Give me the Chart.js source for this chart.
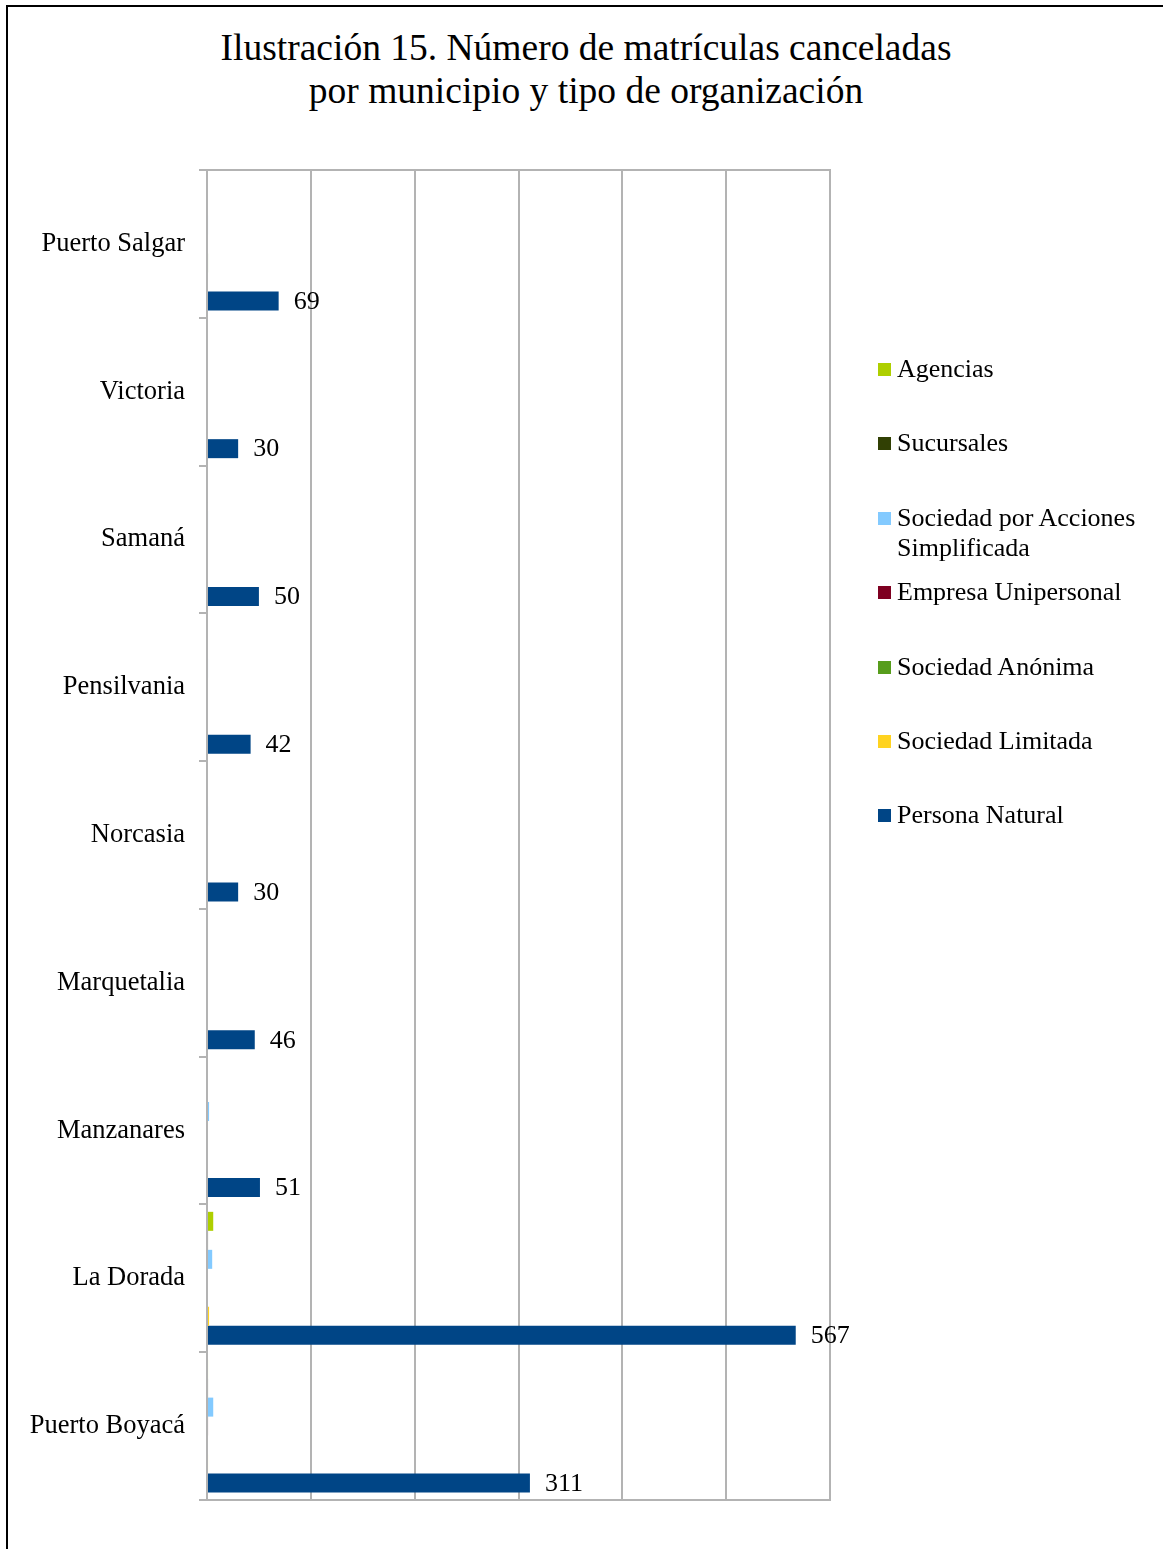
<!DOCTYPE html>
<html lang="es">
<head>
<meta charset="utf-8">
<title>Ilustración 15</title>
<script src="https://cdn.jsdelivr.net/npm/chart.js@4/dist/chart.umd.min.js"></script>
<style>
    html, body { margin: 0; padding: 0; background: #fff; overflow: hidden; }
    body { width: 1163px; height: 1549px; position: relative; font-family: "Liberation Serif", "Times New Roman", serif; }
    #marco { position: absolute; left: 6px; top: 5px; width: 1200px; height: 1600px; border-left: 2px solid #000; border-top: 2px solid #000; }
    #titulo { position: absolute; left: 0; width: 1172px; top: 26px; text-align: center; font-size: 37.5px; line-height: 43px; color: #000; }
    #grafico { position: absolute; left: 0; top: 0; }
    #leyenda { position: absolute; left: 878px; top: 0; width: 285px; height: 900px; }
    .item { position: absolute; left: 0; width: 285px; display: flex; align-items: flex-start; font-size: 26px; line-height: 30px; }
    .item .cuadro { width: 13px; height: 13px; margin-top: 9px; margin-right: 6px; flex: none; }
    .item .texto { width: 262px; }
</style>
</head>
<body>
<div id="marco"></div>
<div id="titulo">Ilustración 15. Número de matrículas canceladas<br>por municipio y tipo de organización</div>
<canvas id="grafico" width="1163" height="1549"></canvas>
<div id="leyenda"></div>
<script>
// Datos
const municipios = ['Puerto Salgar', 'Victoria', 'Samaná', 'Pensilvania', 'Norcasia', 'Marquetalia', 'Manzanares', 'La Dorada', 'Puerto Boyacá'];
const series = ['Agencias', 'Sucursales', 'Sociedad por Acciones Simplificada', 'Empresa Unipersonal', 'Sociedad Anónima', 'Sociedad Limitada', 'Persona Natural'];

const agencias = [0, 0, 0, 0, 0, 0, 0, 6, 1];
const sucursales = [0, 0, 0, 0, 0, 0, 0, 1, 1];
const sociedadAcciones = [1, 0, 1, 1, 1, 0, 2, 5, 6];
const empresaUnipersonal = [0, 0, 0, 0, 0, 0, 0, 0, 1];
const sociedadAnonima = [1, 0, 0, 0, 0, 0, 0, 0, 0];
const sociedadLimitada = [0, 0, 0, 0, 0, 0, 0, 2, 1];
const personaNatural = [69, 30, 50, 42, 30, 46, 51, 567, 311];

const ejeMin = 0;
const ejeMax = 600;
const ejePaso = 100;

const colores = ['#aecf00', '#314004', '#83caff', '#7e0021', '#579d1c', '#ffd320', '#004586'];
const valores = [agencias, sucursales, sociedadAcciones, empresaUnipersonal, sociedadAnonima, sociedadLimitada, personaNatural];

const gris = '#b3b3b3';
const fuente = '"Liberation Serif", "Times New Roman", serif';

// Etiquetas de valor solo para Persona Natural
const etiquetasValor = {
    id: 'etiquetasValor',
    afterDatasetsDraw(chart) {
        const ctx = chart.ctx;
        const idx = chart.data.datasets.length - 1;
        const meta = chart.getDatasetMeta(idx);
        ctx.save();
        ctx.font = '26px ' + fuente;
        ctx.fillStyle = '#000';
        ctx.textAlign = 'left';
        ctx.textBaseline = 'middle';
        meta.data.forEach((bar, i) => {
            ctx.fillText(String(chart.data.datasets[idx].data[i]), bar.x + 15, bar.y + 1);
        });
        ctx.restore();
    }
};

const datasets = series.map((nombre, i) => ({
    label: nombre,
    data: valores[i],
    backgroundColor: colores[i],
    borderWidth: 0,
    categoryPercentage: 0.9,
    barPercentage: 1.0
}));

const chart = new Chart(document.getElementById('grafico'), {
    type: 'bar',
    data: { labels: municipios, datasets: datasets },
    options: {
        indexAxis: 'y',
        responsive: false,
        animation: false,
        layout: { padding: { left: 0, right: 333, top: 170, bottom: 49 } },
        plugins: {
            legend: { display: false },
            tooltip: { enabled: false }
        },
        scales: {
            x: {
                position: 'bottom',
                min: ejeMin,
                max: ejeMax,
                ticks: { display: false, stepSize: ejePaso },
                grid: { color: gris, lineWidth: 2, drawTicks: false },
                border: { display: true, color: gris, width: 2 },
                afterFit: (scale) => { scale.height = 0; }
            },
            xArriba: {
                type: 'linear',
                position: 'top',
                min: ejeMin,
                max: ejeMax,
                ticks: { display: false },
                grid: { drawOnChartArea: false, drawTicks: false },
                border: { display: true, color: gris, width: 2 },
                afterFit: (scale) => { scale.height = 0; }
            },
            y: {
                ticks: { color: '#000', font: { family: fuente, size: 26.5 }, padding: 14 },
                grid: { drawOnChartArea: false, drawTicks: true, tickLength: 8, color: gris, lineWidth: 2 },
                border: { display: true, color: gris, width: 1 },
                afterFit: (scale) => { scale.width = 207; }
            }
        }
    },
    plugins: [etiquetasValor]
});

// Leyenda a la derecha
const leyenda = document.getElementById('leyenda');
chart.data.datasets.forEach((ds, i) => {
    const item = document.createElement('div');
    item.className = 'item';
    item.style.top = (369 - 15 + i * 74.4) + 'px';
    const cuadro = document.createElement('span');
    cuadro.className = 'cuadro';
    cuadro.style.background = ds.backgroundColor;
    const texto = document.createElement('span');
    texto.className = 'texto';
    texto.textContent = ds.label;
    item.appendChild(cuadro);
    item.appendChild(texto);
    leyenda.appendChild(item);
});
</script>
</body>
</html>
